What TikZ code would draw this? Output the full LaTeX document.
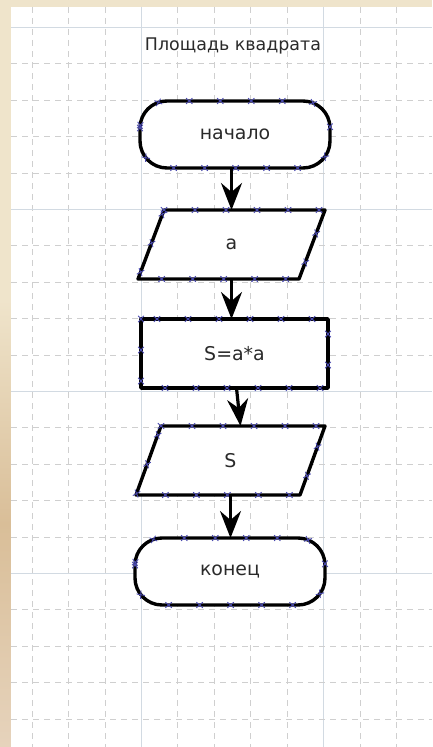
\documentclass[tikz,border=0pt]{standalone}
\usepackage{fontspec}
\setmainfont{DejaVu Sans}
\usetikzlibrary{arrows.meta,decorations.markings}
\definecolor{beigeA}{HTML}{EFE4CB}
\definecolor{beigeB}{HTML}{D9BE98}
\definecolor{beigeC}{HTML}{E6D3BC}
\definecolor{gridd}{HTML}{CFCFCF}
\definecolor{grids}{HTML}{D2DAE2}
\definecolor{mkc}{HTML}{4A4AB0}
\definecolor{txt}{HTML}{2A2A2A}
\pgfdeclarelayer{back}
\pgfdeclarelayer{shapes}
\pgfsetlayers{back,shapes,main}
\begin{document}
\begin{tikzpicture}[x=1bp,y=-1bp,
  lbl/.style={draw=none,inner sep=0pt,outer sep=0pt,text=txt,font=\fontsize{19}{22}\selectfont},
  ttl/.style={inner sep=0pt,text=txt,font=\fontsize{17.5}{21}\selectfont},
  shp/.style={draw=black,fill=white,line width=3.4bp,line join=round},
  xmk/.style={postaction={decorate},decoration={markings,
     mark=between positions 0 and 0.999 step 31bp with {\draw[mkc,line width=0.9bp] (-3.2bp,-2.8bp)--(3.2bp,2.8bp) (-3.2bp,2.8bp)--(3.2bp,-2.8bp);}}},
  arr/.style={draw=black,line width=3.2bp,-{Stealth[length=27bp,width=21bp,inset=9bp]}},
  gdash/.style={draw=gridd,line width=1bp,dash pattern=on 6bp off 5bp},
  gsolid/.style={draw=grids,line width=1bp}]
\useasboundingbox (0,0) rectangle (432,747);

% nodes
\node[ttl] (title) at (233,46) {Площадь квадрата};
\node[lbl,minimum width=190bp,minimum height=67bp] (start) at (235,134.5) {начало};
\node[lbl,minimum width=187bp,minimum height=69bp] (a) at (231.5,244.5) {a};
\node[lbl,minimum width=187bp,minimum height=69bp] (calc) at (234.5,353.5) {S=a*a};
\node[lbl,minimum width=189bp,minimum height=69bp] (S) at (230.5,460.5) {S};
\node[lbl,minimum width=190bp,minimum height=67bp] (end) at (230,571.5) {конец};

% background and grid
\begin{pgfonlayer}{back}
  \fill[beigeA] (0,0) rectangle (432,747);
  \shade[top color=beigeA,bottom color=beigeC,middle color=beigeB] (0,300) rectangle (11,747);
  \fill[white] (11,7) rectangle (432,747);
  \begin{scope}
    \clip (11,7) rectangle (432,747);
    \foreach \i in {0,...,11}{
      \pgfmathsetmacro{\xx}{32.15+36.45*\i}
      \ifnum\i=3 \draw[gsolid] (\xx,7) -- (\xx,747);
      \else\ifnum\i=8 \draw[gsolid] (\xx,7) -- (\xx,747);
      \else \draw[gdash] (\xx,7) -- (\xx,747);\fi\fi
    }
    \foreach \j in {0,...,20}{
      \pgfmathsetmacro{\yy}{27.5+36.4*\j}
      \pgfmathtruncatemacro{\rr}{mod(\j,5)}
      \ifnum\rr=0 \draw[gsolid] (11,\yy) -- (432,\yy);
      \else \draw[gdash] (11,\yy) -- (432,\yy);\fi
    }
  \end{scope}
\end{pgfonlayer}

% shapes
\begin{pgfonlayer}{shapes}
  \draw[shp,xmk,rounded corners=27bp] (start.north west) rectangle (start.south east);
  \draw[shp,xmk] ([xshift=26bp]a.north west) -- (a.north east) -- ([xshift=-26bp]a.south east) -- (a.south west) -- cycle;
  \draw[shp,xmk] (calc.north west) rectangle (calc.south east);
  \draw[shp,xmk] ([xshift=25bp]S.north west) -- (S.north east) -- ([xshift=-25bp]S.south east) -- (S.south west) -- cycle;
  \draw[shp,xmk,rounded corners=27bp] (end.north west) rectangle (end.south east);
\end{pgfonlayer}

% connectors
\draw[arr] (start.south -| a.north) -- (a.north);
\draw[arr] (a.south) -- (a.south |- calc.north);
\draw[arr] ([xshift=2bp]calc.south) -- ([xshift=10bp]S.north);
\draw[arr] (S.south) -- (S.south |- end.north);
\end{tikzpicture}
\end{document}
